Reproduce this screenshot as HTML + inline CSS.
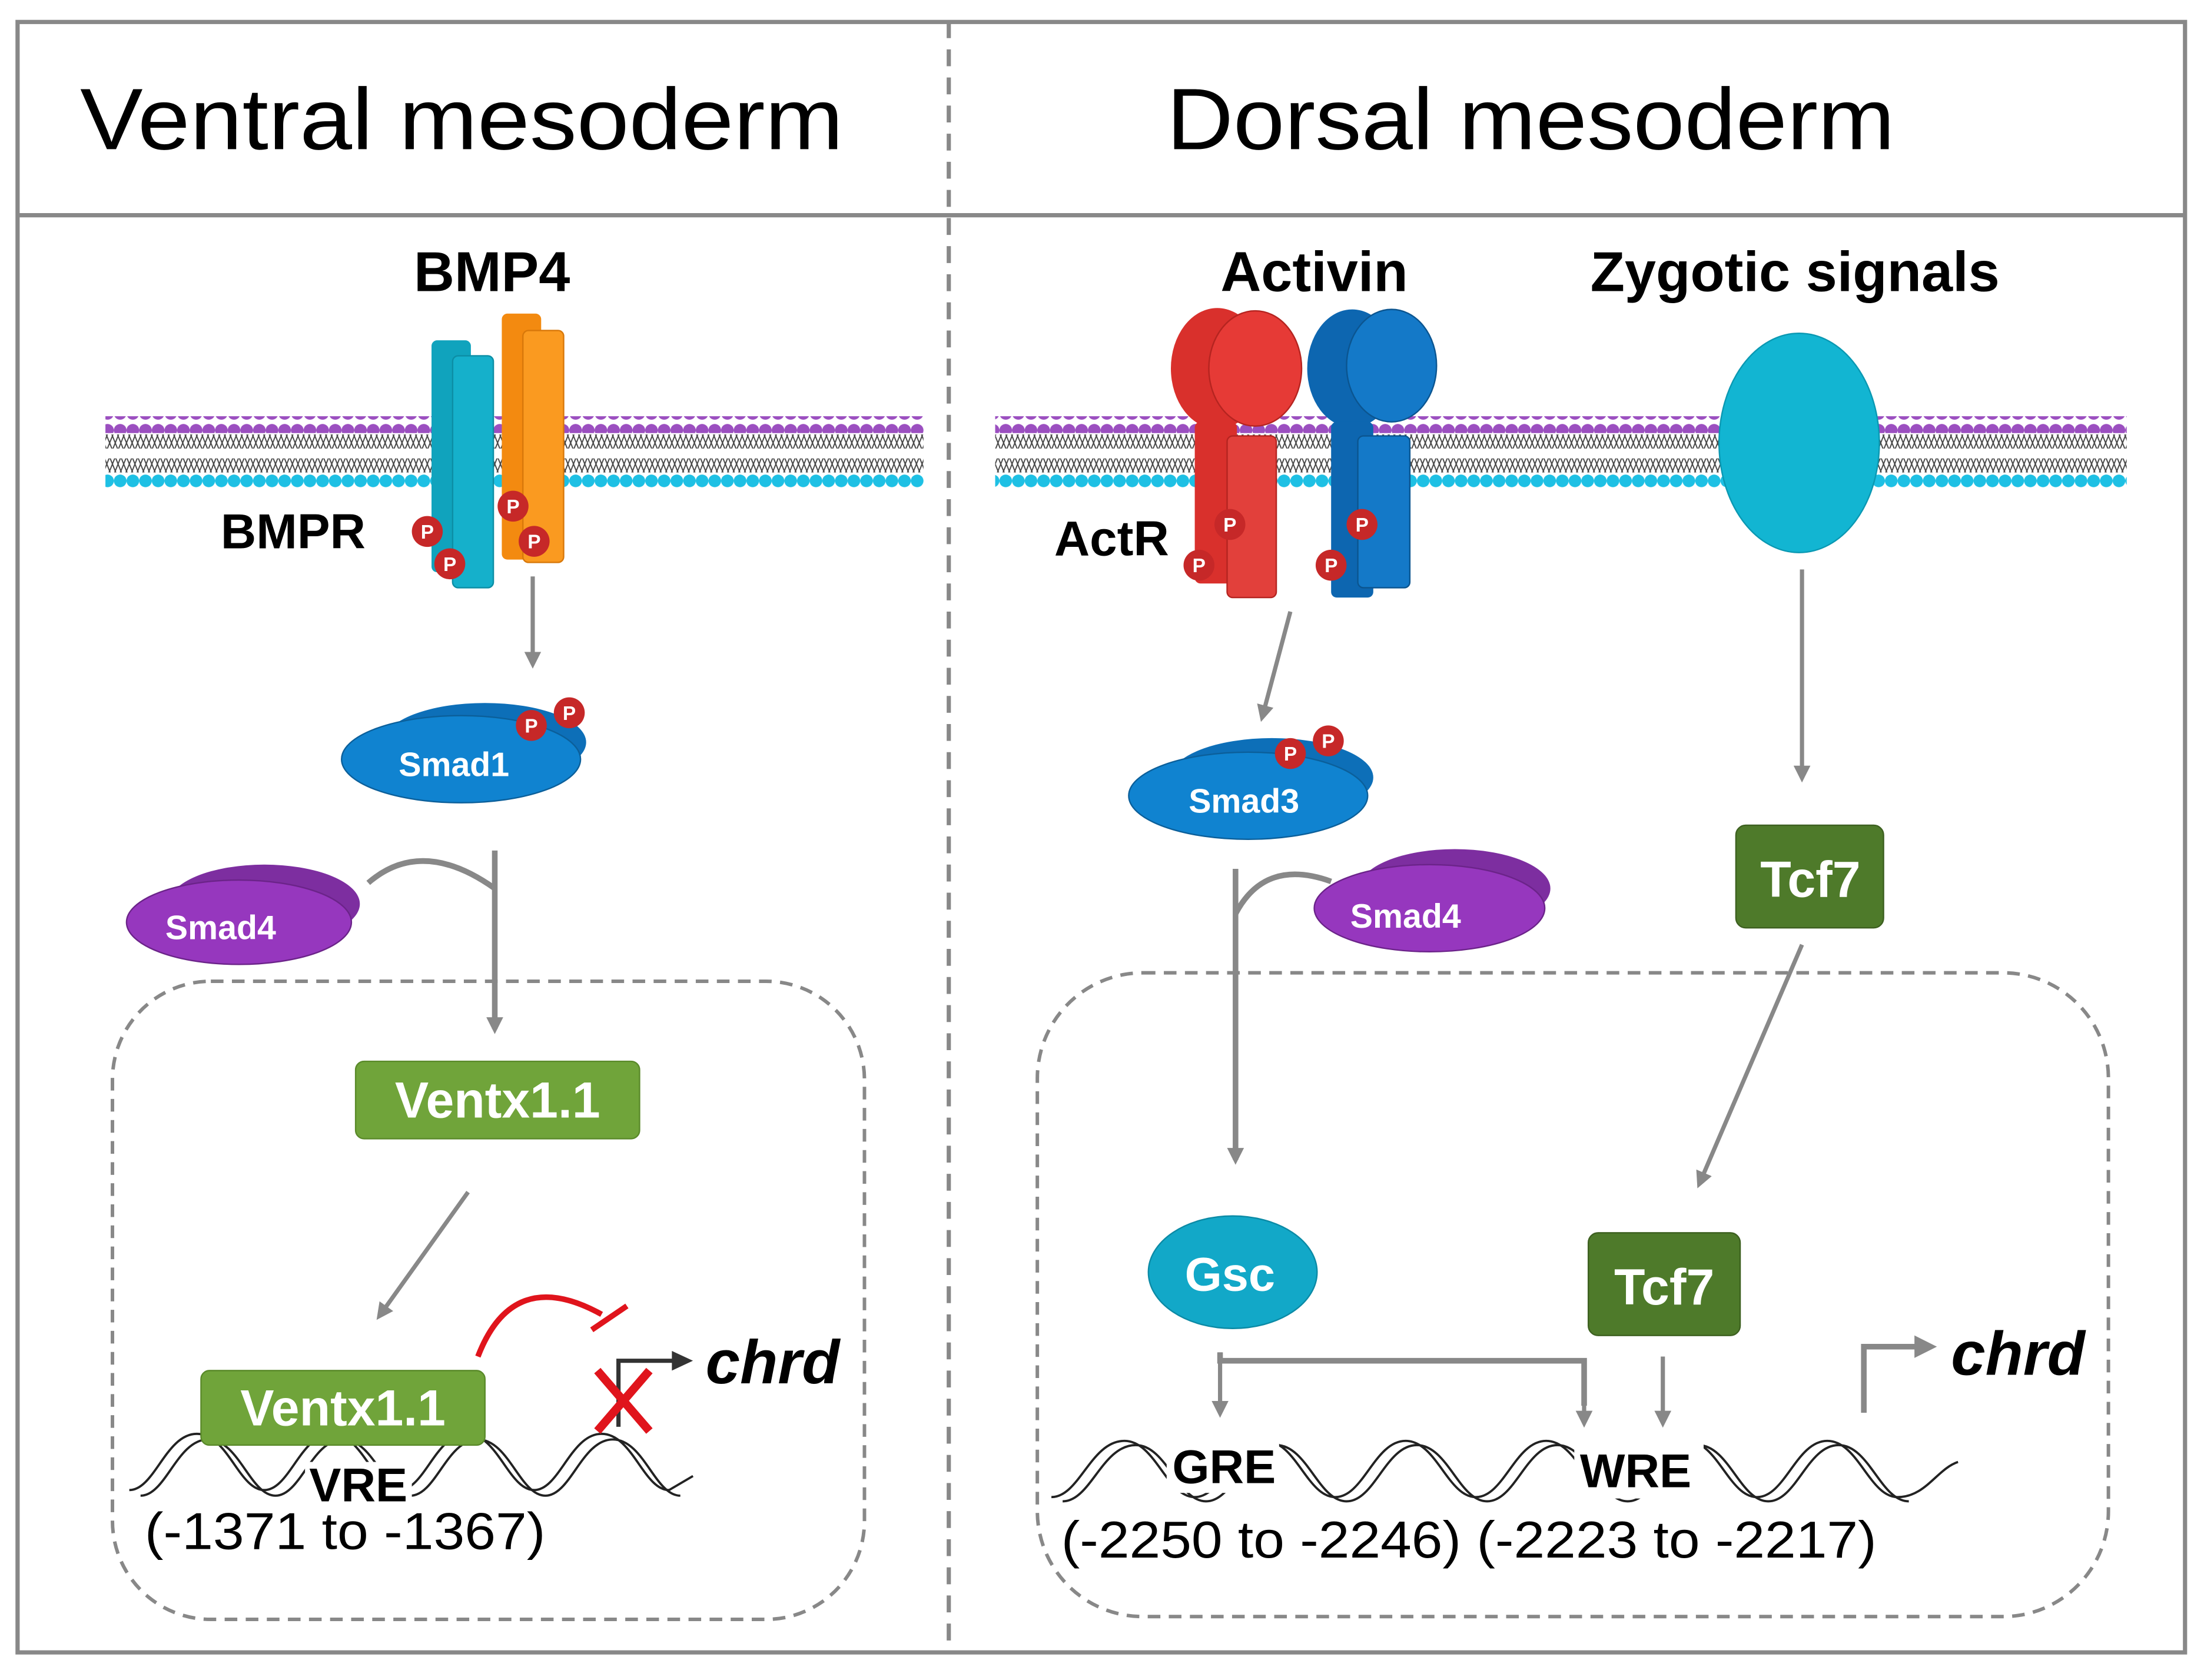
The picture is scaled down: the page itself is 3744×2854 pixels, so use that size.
<!DOCTYPE html>
<html><head><meta charset="utf-8"><style>html,body{margin:0;padding:0;background:#fff}svg{display:block}</style></head>
<body>
<svg width="3744" height="2854" viewBox="0 0 1568 1195" xmlns="http://www.w3.org/2000/svg" font-family="Liberation Sans, sans-serif">
<defs>
<pattern id="pu" width="9" height="12" patternUnits="userSpaceOnUse"><circle cx="4.5" cy="6" r="4.5" fill="#9b4fc0"/></pattern>
<pattern id="cy" width="9" height="12" patternUnits="userSpaceOnUse"><circle cx="4.5" cy="6" r="4.5" fill="#1ec0e4"/></pattern>
<pattern id="zz" width="8" height="10" patternUnits="userSpaceOnUse"><path d="M0,0 L4,10 L8,0 M0,10 L4,0 L8,10" stroke="#444" stroke-width="0.8" fill="none"/></pattern>
<marker id="ar" viewBox="0 0 10 10" markerWidth="12" markerHeight="12" refX="7" refY="5" orient="auto" markerUnits="userSpaceOnUse"><path d="M0,0 L10,5 L0,10 Z" fill="#888"/></marker>
<g id="P"><circle r="11" fill="#c62828"/><text y="5" text-anchor="middle" font-size="14" font-weight="bold" fill="#fff">P</text></g>
</defs>
<rect x="0" y="0" width="1568" height="1195" fill="#fff"/>
<rect x="12.5" y="15.5" width="1542" height="1160" fill="none" stroke="#888" stroke-width="3"/>
<line x1="12" y1="153" x2="1555" y2="153" stroke="#888" stroke-width="3"/>
<line x1="675" y1="15" x2="675" y2="1175" stroke="#888" stroke-width="3" stroke-dasharray="12,8"/>
<text x="57" y="106" font-size="62" textLength="543" lengthAdjust="spacingAndGlyphs">Ventral mesoderm</text>
<text x="830" y="106" font-size="62" textLength="518" lengthAdjust="spacingAndGlyphs">Dorsal mesoderm</text>

<g>
<rect x="75" y="296" width="582" height="12" fill="url(#pu)"/>
<rect x="75" y="309" width="582" height="10" fill="url(#zz)"/>
<rect x="75" y="326" width="582" height="10" fill="url(#zz)"/>
<rect x="75" y="337" width="582" height="12" fill="url(#cy)"/>
<rect x="708" y="296" width="805" height="12" fill="url(#pu)"/>
<rect x="708" y="309" width="805" height="10" fill="url(#zz)"/>
<rect x="708" y="326" width="805" height="10" fill="url(#zz)"/>
<rect x="708" y="337" width="805" height="12" fill="url(#cy)"/>
</g>

<text x="350" y="207" font-size="40" font-weight="bold" text-anchor="middle">BMP4</text>
<text x="157" y="390" font-size="35" font-weight="bold">BMPR</text>
<rect x="307" y="242" width="28" height="165" rx="4" fill="#10a3bd"/>
<rect x="322" y="253" width="29" height="165" rx="4" fill="#15b0cb" stroke="#0c8ea5" stroke-width="1"/>
<rect x="357" y="223" width="28" height="175" rx="4" fill="#f38a10"/>
<rect x="372" y="235" width="29" height="165" rx="4" fill="#fa9a20" stroke="#d8780a" stroke-width="1"/>
<use href="#P" x="304" y="378"/><use href="#P" x="320" y="401"/>
<use href="#P" x="365" y="360"/><use href="#P" x="380" y="385"/>
<line x1="379" y1="410" x2="379" y2="472" stroke="#888" stroke-width="3" marker-end="url(#ar)"/>

<ellipse cx="345" cy="528" rx="72" ry="28" fill="#0d6fb8"/>
<ellipse cx="328" cy="540" rx="85" ry="31" fill="#1083d0" stroke="#0b5f9a"/>
<text x="323" y="552" font-size="24" font-weight="bold" fill="#fff" text-anchor="middle">Smad1</text>
<use href="#P" x="378" y="516"/><use href="#P" x="405" y="507"/>

<ellipse cx="188" cy="643" rx="68" ry="28" fill="#7d2ea0"/>
<ellipse cx="170" cy="656" rx="80" ry="30" fill="#9637be" stroke="#6b2389"/>
<text x="157" y="668" font-size="24" font-weight="bold" fill="#fff" text-anchor="middle">Smad4</text>
<path d="M262,628 Q300,595 352,632" fill="none" stroke="#888" stroke-width="4"/>
<line x1="352" y1="605" x2="352" y2="732" stroke="#888" stroke-width="4" marker-end="url(#ar)"/>

<rect x="80" y="698" width="535" height="454" rx="70" fill="none" stroke="#888" stroke-width="2.5" stroke-dasharray="9,6"/>
<rect x="253" y="755" width="202" height="55" rx="6" fill="#70a43a" stroke="#5a8a2a"/>
<text x="354" y="795" font-size="36" font-weight="bold" fill="#fff" text-anchor="middle">Ventx1.1</text>
<line x1="333" y1="848" x2="270" y2="936" stroke="#888" stroke-width="3" marker-end="url(#ar)"/>

<g fill="none" stroke="#222" stroke-width="1.6">
<path d="M92,1060 C110,1060 118,1020 140,1020 C162,1020 170,1060 188,1060 C206,1060 214,1020 236,1020 C258,1020 266,1060 284,1060 C302,1060 310,1020 332,1020 C354,1020 362,1060 380,1060 C398,1060 406,1020 428,1020 C450,1020 458,1060 476,1060 L493,1050"/>
<path d="M100,1064 C118,1064 126,1024 148,1024 C170,1024 178,1064 196,1064 C214,1064 222,1024 244,1024 C266,1024 274,1064 292,1064 C310,1064 318,1024 340,1024 C362,1024 370,1064 388,1064 C406,1064 414,1024 436,1024 C458,1024 466,1064 484,1064"/>
</g>
<rect x="217" y="1040" width="76" height="32" fill="#fff"/>
<text x="220" y="1068" font-size="34" font-weight="bold">VRE</text>
<text x="103" y="1102" font-size="37" textLength="285" lengthAdjust="spacingAndGlyphs">(-1371 to -1367)</text>
<rect x="143" y="975" width="202" height="53" rx="6" fill="#70a43a" stroke="#5a8a2a"/>
<text x="244" y="1014" font-size="36" font-weight="bold" fill="#fff" text-anchor="middle">Ventx1.1</text>
<path d="M340,965 Q365,900 428,935" fill="none" stroke="#e0141c" stroke-width="4"/>
<line x1="421" y1="946" x2="446" y2="929" stroke="#e0141c" stroke-width="4"/>
<path d="M440,1015 L440,968 L480,968" fill="none" stroke="#333" stroke-width="3"/>
<path d="M478,961 L493,968 L478,975 Z" fill="#333"/>
<path d="M425,975 L462,1018 M462,975 L425,1018" stroke="#e0141c" stroke-width="6"/>
<text x="502" y="984" font-size="44" font-weight="bold" font-style="italic">chrd</text>

<text x="935" y="207" font-size="40" font-weight="bold" text-anchor="middle">Activin</text>
<text x="1277" y="207" font-size="40" font-weight="bold" text-anchor="middle">Zygotic signals</text>
<text x="750" y="395" font-size="35" font-weight="bold">ActR</text>
<ellipse cx="866" cy="262" rx="33" ry="43" fill="#d9302c"/>
<ellipse cx="893" cy="262" rx="33" ry="41" fill="#e63a36" stroke="#b52420"/>
<rect x="850" y="300" width="30" height="115" rx="4" fill="#d9302c"/>
<rect x="873" y="310" width="35" height="115" rx="4" fill="#e2403b" stroke="#b52420"/>
<ellipse cx="962" cy="262" rx="32" ry="42" fill="#0d66b0"/>
<ellipse cx="990" cy="260" rx="32" ry="40" fill="#1479c8" stroke="#0b5590"/>
<rect x="947" y="300" width="30" height="125" rx="4" fill="#0d66b0"/>
<rect x="966" y="310" width="37" height="108" rx="4" fill="#1479c8" stroke="#0b5590"/>
<use href="#P" x="875" y="373"/><use href="#P" x="853" y="402"/>
<use href="#P" x="969" y="373"/><use href="#P" x="947" y="402"/>
<ellipse cx="1280" cy="315" rx="57" ry="78" fill="#12b5d2" stroke="#0a98b2"/>
<line x1="1282" y1="405" x2="1282" y2="553" stroke="#888" stroke-width="3" marker-end="url(#ar)"/>
<line x1="918" y1="435" x2="898" y2="510" stroke="#888" stroke-width="3" marker-end="url(#ar)"/>

<ellipse cx="905" cy="553" rx="72" ry="28" fill="#0d6fb8"/>
<ellipse cx="888" cy="566" rx="85" ry="31" fill="#1083d0" stroke="#0b5f9a"/>
<text x="885" y="578" font-size="24" font-weight="bold" fill="#fff" text-anchor="middle">Smad3</text>
<use href="#P" x="918" y="536"/><use href="#P" x="945" y="527"/>

<ellipse cx="1035" cy="632" rx="68" ry="28" fill="#7d2ea0"/>
<ellipse cx="1017" cy="646" rx="82" ry="31" fill="#9637be" stroke="#6b2389"/>
<text x="1000" y="660" font-size="24" font-weight="bold" fill="#fff" text-anchor="middle">Smad4</text>
<path d="M947,627 Q900,610 879,650" fill="none" stroke="#888" stroke-width="4"/>
<line x1="879" y1="618" x2="879" y2="825" stroke="#888" stroke-width="4" marker-end="url(#ar)"/>

<rect x="1235" y="587" width="105" height="73" rx="7" fill="#4e7a2a" stroke="#3d6020"/>
<text x="1288" y="638" font-size="36" font-weight="bold" fill="#fff" text-anchor="middle">Tcf7</text>
<line x1="1282" y1="672" x2="1209" y2="842" stroke="#888" stroke-width="3" marker-end="url(#ar)"/>

<rect x="738" y="692" width="762" height="458" rx="75" fill="none" stroke="#888" stroke-width="2.5" stroke-dasharray="9,6"/>
<ellipse cx="877" cy="905" rx="60" ry="40" fill="#12a8c8" stroke="#0b8aa5"/>
<text x="875" y="918" font-size="34" font-weight="bold" fill="#fff" text-anchor="middle">Gsc</text>
<rect x="1130" y="877" width="108" height="73" rx="7" fill="#4e7a2a" stroke="#3d6020"/>
<text x="1184" y="928" font-size="36" font-weight="bold" fill="#fff" text-anchor="middle">Tcf7</text>
<path d="M868,962 L868,968 L1127,968 L1127,1000" fill="none" stroke="#888" stroke-width="4"/>
<line x1="868" y1="962" x2="868" y2="1005" stroke="#888" stroke-width="3" marker-end="url(#ar)"/>
<line x1="1127" y1="990" x2="1127" y2="1012" stroke="#888" stroke-width="3" marker-end="url(#ar)"/>
<line x1="1183" y1="965" x2="1183" y2="1012" stroke="#888" stroke-width="3" marker-end="url(#ar)"/>
<path d="M1326,1005 L1326,958 L1365,958" fill="none" stroke="#888" stroke-width="4"/>
<path d="M1362,950 L1378,958 L1362,966 Z" fill="#888"/>
<text x="1388" y="978" font-size="44" font-weight="bold" font-style="italic">chrd</text>

<g fill="none" stroke="#222" stroke-width="1.6">
<path d="M748,1065 C768,1065 776,1025 800,1025 C822,1025 830,1065 850,1065 C870,1065 878,1025 900,1025 C922,1025 930,1065 950,1065 C970,1065 978,1025 1000,1025 C1022,1025 1030,1065 1050,1065 C1070,1065 1078,1025 1100,1025 C1122,1025 1130,1065 1150,1065 C1170,1065 1178,1025 1200,1025 C1222,1025 1230,1065 1250,1065 C1270,1065 1278,1025 1300,1025 C1322,1025 1330,1065 1350,1065 C1370,1065 1378,1045 1393,1040"/>
<path d="M756,1068 C776,1068 784,1028 808,1028 C830,1028 838,1068 858,1068 C878,1068 886,1028 908,1028 C930,1028 938,1068 958,1068 C978,1068 986,1028 1008,1028 C1030,1028 1038,1068 1058,1068 C1078,1068 1086,1028 1108,1028 C1130,1028 1138,1068 1158,1068 C1178,1068 1186,1028 1208,1028 C1230,1028 1238,1068 1258,1068 C1278,1068 1286,1028 1308,1028 C1330,1028 1338,1068 1358,1068"/>
</g>
<rect x="830" y="1022" width="80" height="40" fill="#fff"/>
<rect x="1120" y="1022" width="92" height="44" fill="#fff"/>
<text x="834" y="1055" font-size="34" font-weight="bold">GRE</text>
<text x="1124" y="1058" font-size="34" font-weight="bold">WRE</text>
<text x="755" y="1108" font-size="37" textLength="580" lengthAdjust="spacingAndGlyphs">(-2250 to -2246) (-2223 to -2217)</text>
</svg>
</body></html>
